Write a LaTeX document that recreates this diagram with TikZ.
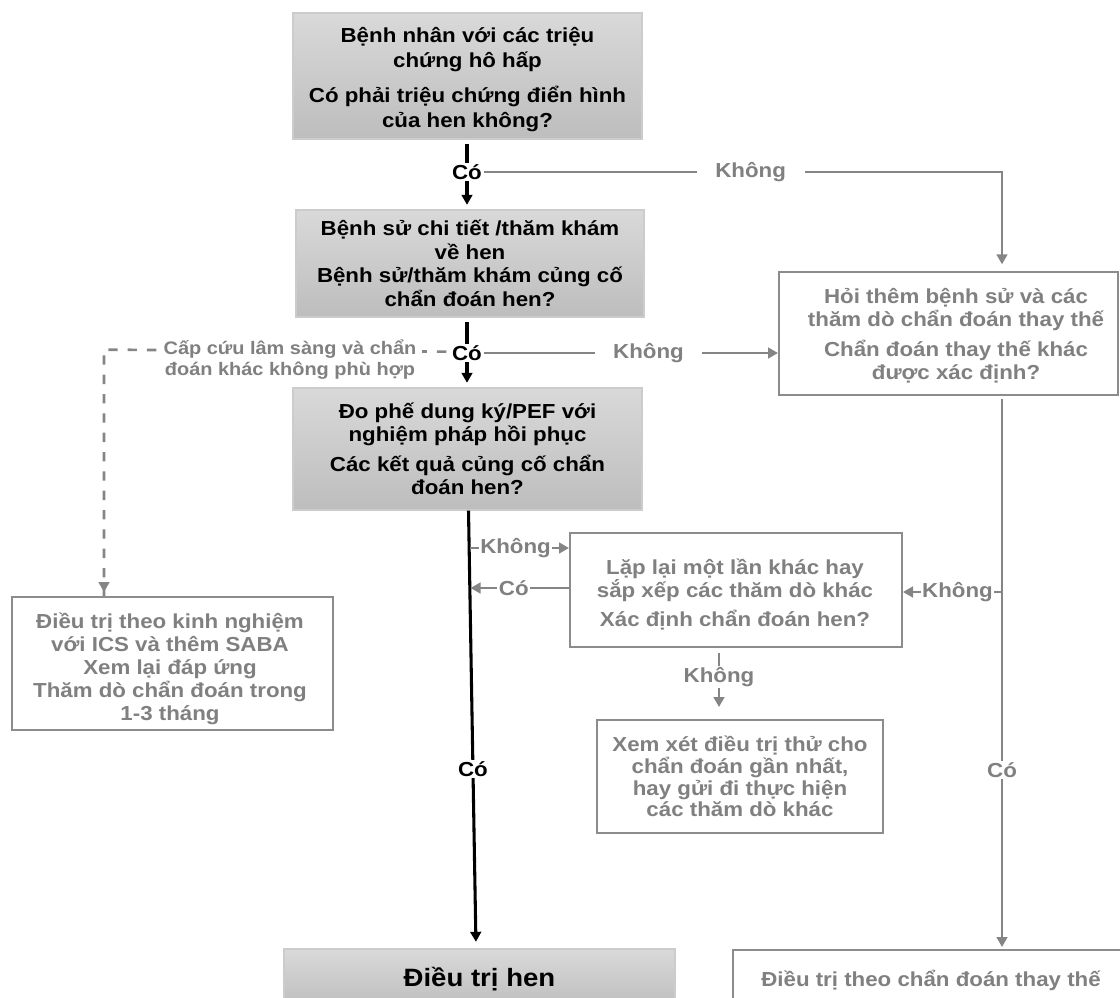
\documentclass[tikz,border=0pt]{standalone}
\usepackage{fontspec}
\setmainfont{Liberation Sans}[FakeStretch=1.1]
\usetikzlibrary{arrows.meta}
\definecolor{gtxt}{HTML}{808080}
\definecolor{gline}{HTML}{858585}
\definecolor{gborder}{HTML}{8C8C8C}
\definecolor{ftop}{HTML}{D9D9D9}
\definecolor{fbot}{HTML}{BDBDBD}
\begin{document}
\begin{tikzpicture}[x=0.75pt,y=-0.75pt,
  font=\bfseries\fontsize{15.2}{17.25}\selectfont,
  gbox/.style={draw=gray!40, line width=0.8pt, top color=ftop, bottom color=fbot,
    text=black, align=center, inner sep=0pt},
  wbox/.style={draw=gborder, line width=1.5pt, fill=white, text=gtxt,
    align=center, inner sep=0pt},
  tx/.style={text=gtxt, align=center, inner sep=0pt},
  lbl/.style={fill=white, inner sep=1.2pt, text=gtxt},
  wlbl/.style={fill=white, inner ysep=1.2pt, inner xsep=14pt, text=gtxt},
  blbl/.style={fill=white, inner sep=1.2pt, text=black},
  arr/.style={-{Triangle[length=7.5pt,width=8pt]}},
  bline/.style={draw=black, line width=2.3pt},
  gl/.style={draw=gline, line width=2pt},
  dl/.style={draw=gline, line width=2pt, dash pattern=on 7pt off 7.5pt}
]
\path[use as bounding box, clip] (0,0) rectangle (1120,997);

% boxes
\node[gbox, minimum width=261.75pt, minimum height=94.5pt] (b1) at (467.5,76) {};
\node[inner sep=0pt, align=center, text=black,
  font=\bfseries\fontsize{15.2}{18.75}\selectfont] (b1t) at (467.5,79.5)
  {Bệnh nhân với các triệu\\chứng hô hấp\\[7.5pt]Có phải triệu chứng điển hình\\của hen không?};
\node[gbox, minimum width=261pt, minimum height=80.25pt,
  font=\bfseries\fontsize{15.2}{17.6}\selectfont] (b2) at (470,263.5)
  {Bệnh sử chi tiết /thăm khám\\về hen\\Bệnh sử/thăm khám củng cố\\chẩn đoán hen?};
\node[gbox, minimum width=261.75pt, minimum height=91.5pt] (b3) at (467.5,449)
  {Đo phế dung ký/PEF với\\nghiệm pháp hồi phục\\[5pt]Các kết quả củng cố chẩn\\đoán hen?};
\node[wbox, minimum width=254.25pt, minimum height=92.25pt] (hoi) at (948.5,333.5) {};
\node[tx] (hoit) at (956,335.5)
  {Hỏi thêm bệnh sử và các\\thăm dò chẩn đoán thay thế\\[5pt]Chẩn đoán thay thế khác\\được xác định?};
\node[wbox, minimum width=249pt, minimum height=85.5pt] (lap) at (736,590) {};
\node[tx] (lapt) at (735,595)
  {Lặp lại một lần khác hay\\sắp xếp các thăm dò khác\\[4.5pt]Xác định chẩn đoán hen?};
\node[wbox, minimum width=240.75pt, minimum height=99.75pt] (kn) at (172.5,663.5) {};
\node[tx, font=\bfseries\fontsize{15.2}{17.2}\selectfont] (knt) at (170,669)
  {Điều trị theo kinh nghiệm\\với ICS và thêm SABA\\Xem lại đáp ứng\\Thăm dò chẩn đoán trong\\1-3 tháng};
\node[wbox, minimum width=214.5pt, minimum height=84.75pt,
  font=\bfseries\fontsize{15.2}{16.3}\selectfont] (xx) at (740,776.5)
  {Xem xét điều trị thử cho\\chẩn đoán gần nhất,\\hay gửi đi thực hiện\\các thăm dò khác};
\node[gbox, minimum width=293.25pt, minimum height=45.75pt,
  font=\bfseries\fontsize{18.8}{22}\selectfont] (hen) at (479.5,979.5) {Điều trị hen};
\node[wbox, minimum width=297pt, minimum height=45pt] (tt) at (931,980)
  {Điều trị theo chẩn đoán thay thế};

% helper coordinates
\coordinate (c1) at (1002,172);
\coordinate (d1) at (104,351);
\coordinate (k1) at (470,548);
\coordinate (k2) at (470.5,588);
\coordinate (r1) at (1002,592);
\coordinate (k3) at (719,650);

% box1 -> box2
\node[blbl] (co1) at (467,172) {Có};
\draw[bline, shorten <=3pt] (co1.north |- b1.south) -- (co1.north);
\draw[bline, arr, shorten >=3.5pt] (co1.south) -- (co1.south |- b2.north);
\draw[gl, arr, shorten >=5pt] (co1.east) -- node[wlbl, pos=0.515] {Không} (c1) -- (c1 |- hoi.north);

% box2 -> box3
\node[blbl] (co2) at (467,353) {Có};
\draw[bline, shorten <=3.5pt] (co2.north |- b2.south) -- (co2.north);
\draw[bline, arr, shorten >=3.5pt] (co2.south) -- (co2.south |- b3.north);
\draw[gl, arr] (co2.east) -- node[wlbl, pos=0.56] {Không} (co2.east -| hoi.west);

% dashed branch
\draw[dl, shorten <=3pt] ([yshift=1pt]co2.west) -- ([yshift=1pt]d1) -- (d1 |- kn.north);
\draw[gl, arr, shorten >=3pt] ([yshift=8pt]d1 |- kn.north) -- (d1 |- kn.north);
\node[fill=white, inner ysep=1pt, inner xsep=4pt, text=gtxt, align=center,
  font=\bfseries\fontsize{13.6}{15.2}\selectfont] (cc) at (290,359.5)
  {Cấp cứu lâm sàng và chẩn\\đoán khác không phù hợp};

% trunk
\draw[bline, arr, shorten >=5pt] ([xshift=0.75pt]b3.south) --
  node[blbl, pos=0.59] {Có} ([xshift=-2.6pt]hen.north);

% Lap lai connections
\draw[gl, arr] (k1) -- node[lbl, pos=0.46] {Không} (k1 -| lap.west);
\draw[gl, arr] (k2 -| lap.west) -- node[lbl, pos=0.56] {Có} (k2);
\draw[gl, arr] (r1) -- node[lbl, pos=0.45] {Không} (r1 -| lap.east);

% right vertical
\draw[gl, arr, shorten <=2pt, shorten >=1.5pt] (r1 |- hoi.south) --
  node[lbl, pos=0.676] {Có} (r1 |- tt.north);

% lap -> xem xet
\draw[gl, arr, shorten <=4pt, shorten >=9pt] (k3 |- lap.south) --
  node[lbl, pos=0.41] {Không} (k3 |- xx.north);
\end{tikzpicture}
\end{document}
